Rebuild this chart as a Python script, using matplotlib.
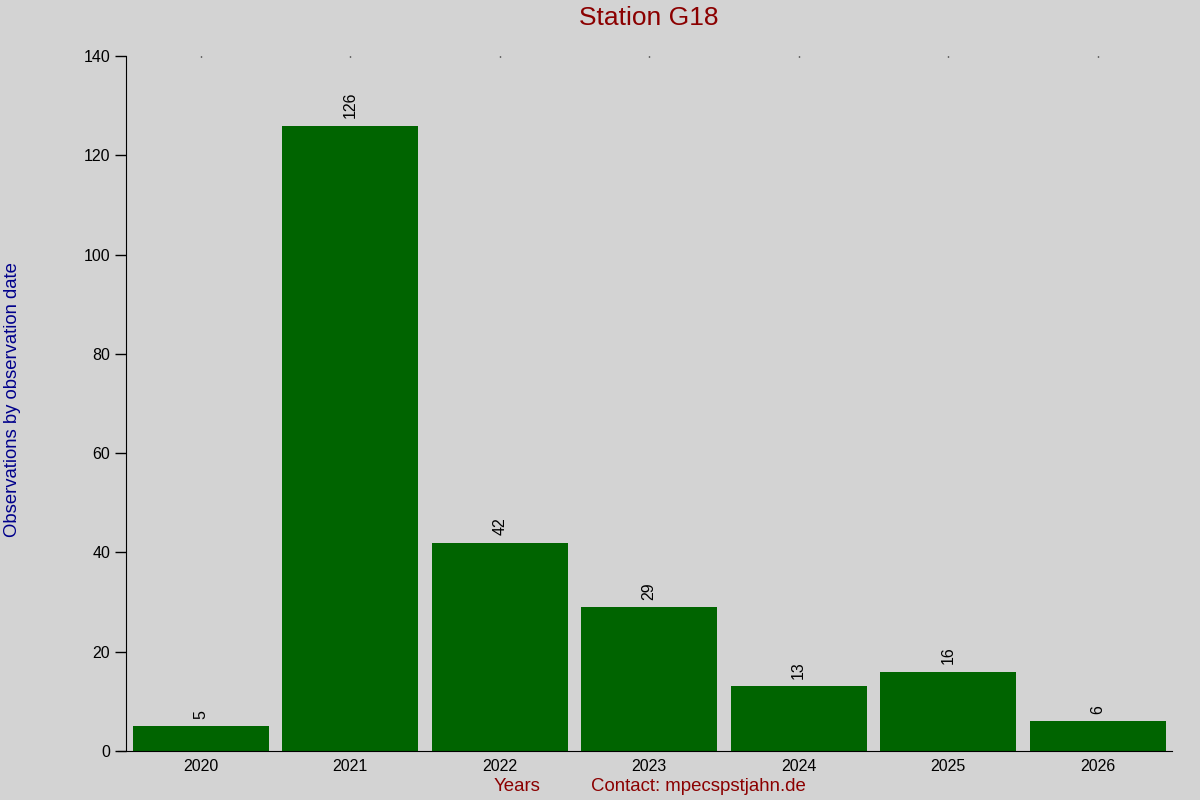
import matplotlib.pyplot as plt

years = ['2020', '2021', '2022', '2023', '2024', '2025', '2026']
counts = [5, 126, 42, 29, 13, 16, 6]

plt.rcParams['font.family'] = ['Liberation Sans', 'DejaVu Sans']

fig = plt.figure(figsize=(12, 8), dpi=100, facecolor='#d3d3d3')
ax = fig.add_axes([0.105, 0.06125, 0.872, 0.86875])
ax.set_facecolor('#d3d3d3')

x = range(len(years))
bars = ax.bar(x, counts, width=0.91, color='#006400')
for xi, c in zip(x, counts):
    ax.text(xi, c + 1.5, str(c), rotation=90, ha='center', va='bottom', fontsize=11.5)

ax.set_xlim(-0.5, len(years) - 0.5)
ax.set_ylim(0, 140)
ax.set_xticks(list(x))
ax.set_xticklabels(years, fontsize=11.5)
ax.set_yticks(range(0, 141, 20))
ax.tick_params(axis='y', labelsize=11.5, length=8, width=1, direction='out')
ax.tick_params(axis='x', bottom=False, top=True, length=1, width=1, direction='in', pad=6)
for s in ['top', 'right']:
    ax.spines[s].set_visible(False)
ax.spines['bottom'].set_bounds(-0.555, 6.5)

fig.text(0.541, 0.992, 'Station G18', color='#8b0000', fontsize=19, ha='center', va='top')
fig.text(0.003, 0.5, 'Observations by observation date', color='#00008b', fontsize=13.3,
         rotation=90, ha='left', va='center')
fig.text(0.431, 0.017, 'Years', color='#8b0000', fontsize=13.4, ha='center', va='center')
fig.text(0.4925, 0.017, 'Contact: mpecspstjahn.de', color='#8b0000', fontsize=13.4, ha='left', va='center')

fig.savefig('out.png', dpi=100, facecolor='#d3d3d3')
